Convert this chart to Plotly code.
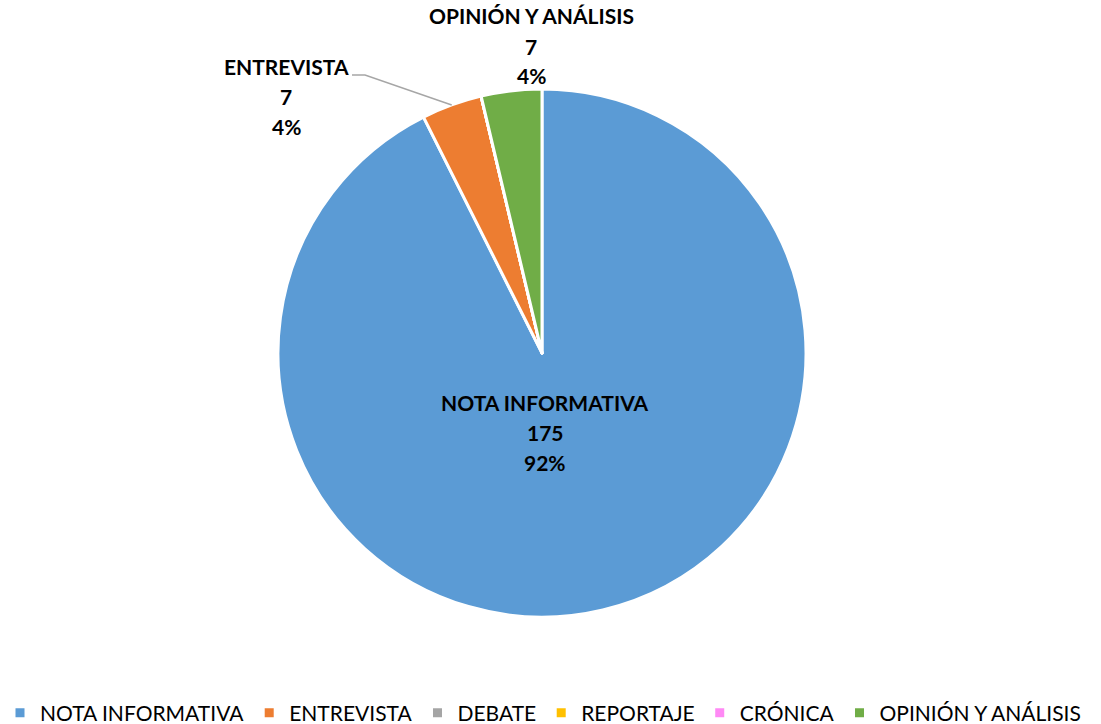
import math
import plotly.graph_objects as go

# Story types and counts
categories = ["NOTA INFORMATIVA", "ENTREVISTA", "DEBATE", "REPORTAJE", "CRÓNICA", "OPINIÓN Y ANÁLISIS"]
counts = [175, 7, 0, 0, 0, 7]
pct_labels = ["92%", "4%", "0%", "0%", "0%", "4%"]
colors = ["#5B9BD5", "#ED7D31", "#A5A5A5", "#FFC000", "#FF89F5", "#70AD47"]

W, H = 1101, 724
CX, CY, R = 542, 353, 264  # pie centre and radius in pixels (from top-left)
FONT = "Lato"
FS = 21
LINE_GAP = 30  # pixels between label lines

fig = go.Figure(go.Pie(
    labels=categories,
    values=counts,
    marker=dict(colors=colors, line=dict(color="white", width=3)),
    sort=False,
    direction="clockwise",
    rotation=0,
    textinfo="none",
    hoverinfo="label+value+percent",
    domain=dict(x=[(CX - R) / W, (CX + R) / W], y=[(H - CY - R) / H, (H - CY + R) / H]),
    showlegend=True,
))


def px(x, y):
    return x / W, 1 - y / H


annotations = []
# data labels: pixel centre of the middle line (the value)
label_pos = {0: (545, 432), 1: (286, 96), 5: (531, 46)}
for i, (x, y) in label_pos.items():
    lines = [categories[i], str(counts[i]), pct_labels[i]]
    for k, line in enumerate(lines):
        ax, ay = px(x, y + (k - 1) * LINE_GAP)
        annotations.append(dict(
            x=ax, y=ay, xref="paper", yref="paper", xanchor="center", yanchor="middle",
            text=f"<b>{line}</b>", showarrow=False,
            font=dict(family=FONT, size=FS, color="black"),
        ))

# leader line from the ENTREVISTA label to the middle of its slice edge
total = sum(counts)
start = counts[0] / total * 360
mid = start + counts[1] / total * 360 / 2  # degrees clockwise from top
ex = CX + R * math.sin(math.radians(mid))
ey = CY - R * math.cos(math.radians(mid))
p0 = px(352, 75)
p1 = px(365, 75)
p2 = px(ex, ey)
shapes = [dict(
    type="path", xref="paper", yref="paper",
    path=f"M {p0[0]},{p0[1]} L {p1[0]},{p1[1]} L {p2[0]},{p2[1]}",
    line=dict(color="#A6A6A6", width=1.5),
)]

fig.update_layout(
    width=W, height=H,
    margin=dict(l=0, r=0, t=0, b=0, autoexpand=False),
    paper_bgcolor="white",
    plot_bgcolor="white",
    annotations=annotations,
    shapes=shapes,
    legend=dict(
        orientation="h", x=0.0, xanchor="left", y=1 - 713 / H, yanchor="middle",
        font=dict(family=FONT, size=FS, color="black"),
        itemclick=False,
    ),
)

fig.write_html("out.html")
